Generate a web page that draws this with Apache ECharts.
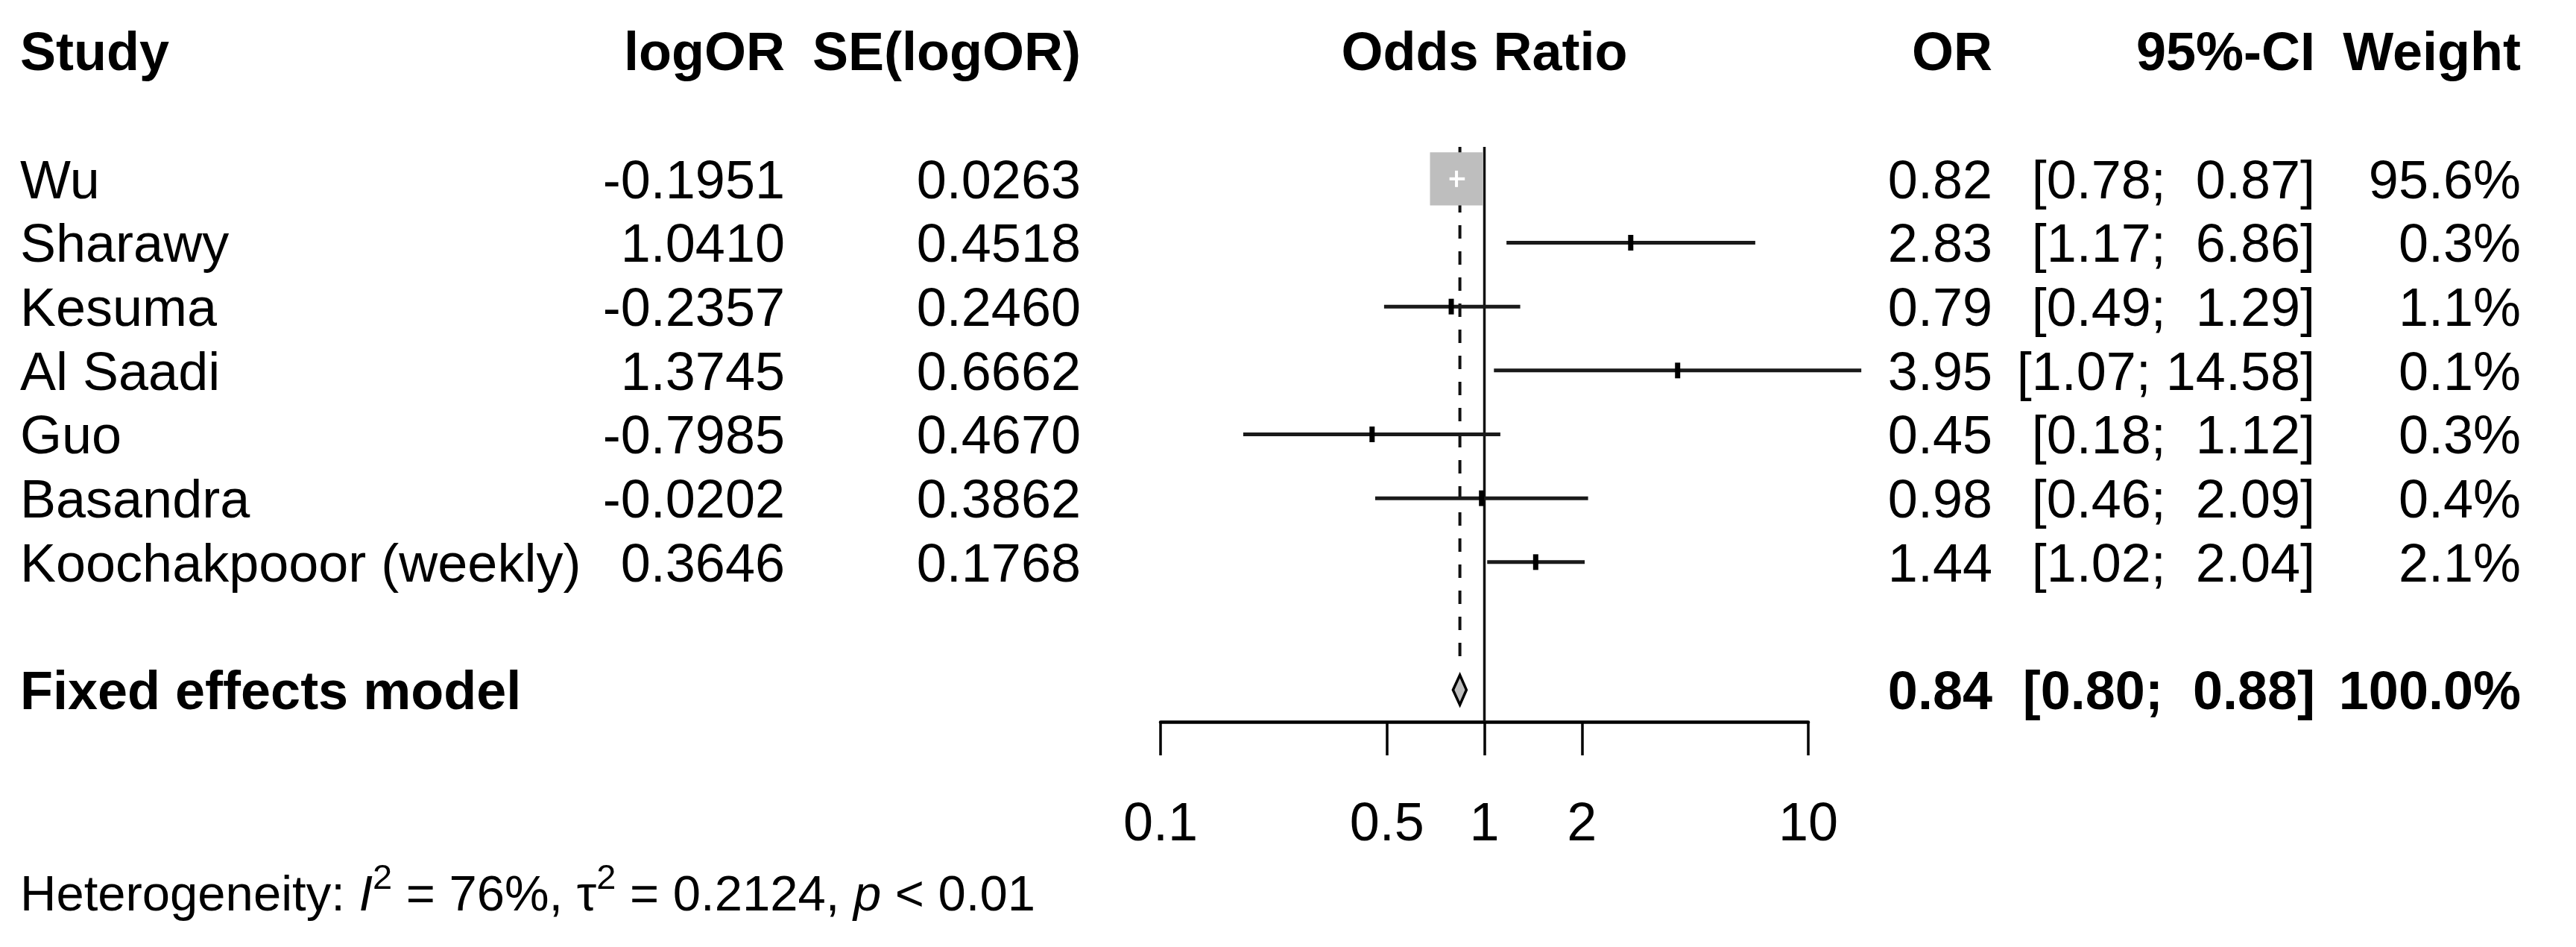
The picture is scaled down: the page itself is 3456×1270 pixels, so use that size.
<!DOCTYPE html>
<html><head><meta charset="utf-8">
<script src="https://cdn.jsdelivr.net/npm/echarts@6/dist/echarts.min.js"></script>
<style>html,body{margin:0;padding:0;background:#fff}#chart{width:3456px;height:1270px}</style>
</head><body><div id="chart"></div>
<script>
// ---------------- data ----------------
const studies = ['Wu', 'Sharawy', 'Kesuma', 'Al Saadi', 'Guo', 'Basandra', 'Koochakpooor (weekly)'];
const logOR = [-0.1951, 1.0410, -0.2357, 1.3745, -0.7985, -0.0202, 0.3646];
const seLogOR = [0.0263, 0.4518, 0.2460, 0.6662, 0.4670, 0.3862, 0.1768];
const oddsRatio = [0.82, 2.83, 0.79, 3.95, 0.45, 0.98, 1.44];
const ciLower = [0.78, 1.17, 0.49, 1.07, 0.18, 0.46, 1.02];
const ciUpper = [0.87, 6.86, 1.29, 14.58, 1.12, 2.09, 2.04];
const weightPct = [95.6, 0.3, 1.1, 0.1, 0.3, 0.4, 2.1];
const fixedLabel = 'Fixed effects model';
const fixedOR = [0.84];
const fixedLower = [0.80];
const fixedUpper = [0.88];
const fixedWeight = [100.0];
const tickValues = [0.1, 0.5, 1, 2, 10];
const headers = ['Study', 'logOR', 'SE(logOR)', 'Odds Ratio', 'OR', '95%-CI', 'Weight'];
const hetI2 = '76%';
const hetTau2 = '0.2124';
const hetP = '< 0.01';

// ---------------- layout ----------------
const FONT = '"Liberation Sans", Arial, Helvetica, sans-serif';
const FS = 72;
const FS_HET = 67;
const TEXT_DY = 6;
const COL = { study: 27, logOR: 1053, se: 1450, or: 2673, ci: 3106, w: 3382 };
const HEADER_ROW = -2;
const FIXED_ROW = studies.length + 1;
const BOX_SCALE = 0.83;

const L = Math.log10;
const tickLogs = tickValues.map(L);
const wMax = Math.max(...weightPct);

function fmtCI(lo, up) {
  const all = ciUpper.concat(fixedUpper).map(v => v.toFixed(2));
  const wid = Math.max(...all.map(s => s.length));
  let u = up.toFixed(2);
  while (u.length < wid) u = ' ' + u;
  return '[' + lo.toFixed(2) + '; ' + u + ']';
}

// table rows (text)
const tableRows = [];
tableRows.push({ row: HEADER_ROW, bold: true, cells: headers });
studies.forEach((s, i) => {
  tableRows.push({ row: i, bold: false, cells: [
    s, logOR[i].toFixed(4), seLogOR[i].toFixed(4), '',
    oddsRatio[i].toFixed(2), fmtCI(ciLower[i], ciUpper[i]), weightPct[i].toFixed(1) + '%'
  ]});
});
tableRows.push({ row: FIXED_ROW, bold: true, cells: [
  fixedLabel, '', '', '', fixedOR[0].toFixed(2), fmtCI(fixedLower[0], fixedUpper[0]),
  fixedWeight[0].toFixed(1) + '%'
]});

const forestData = studies.map((s, i) => [L(oddsRatio[i]), i, L(ciLower[i]), L(ciUpper[i]), weightPct[i]]);
const diamondData = [[L(fixedOR[0]), FIXED_ROW, L(fixedLower[0]), L(fixedUpper[0])]];
const refData = [[0, 0, 0], [L(fixedOR[0]), 0, 1]];

function txt(text, x, y, align, bold) {
  return { type: 'text', style: { text: text, x: x, y: y + TEXT_DY, align: align, verticalAlign: 'middle',
    fontFamily: FONT, fontSize: FS, fontWeight: bold ? 'bold' : 'normal', fill: '#000' } };
}

const chart = echarts.init(document.getElementById('chart'), null, { renderer: 'canvas' });
chart.setOption({
  animation: false,
  backgroundColor: '#fff',
  grid: { left: 1557, right: 1030, top: 197, bottom: 302, containLabel: false },
  xAxis: {
    type: 'value', min: -1, max: 1,
    axisLine: { show: true, onZero: false, lineStyle: { color: '#000', width: 4.5 } },
    axisTick: { show: true, customValues: tickLogs, length: 45, lineStyle: { color: '#000', width: 3.5 } },
    axisLabel: { show: true, customValues: tickLogs, margin: 103, fontSize: FS, fontFamily: FONT, color: '#000',
      formatter: v => { const t = tickValues.find(t => Math.abs(L(t) - v) < 1e-6); return t === undefined ? '' : String(t); } },
    splitLine: { show: false }
  },
  yAxis: { type: 'value', inverse: true, min: -0.5, max: FIXED_ROW + 0.5, show: false,
    axisLine: { onZero: false }, splitLine: { show: false } },
  series: [
    { // reference lines
      type: 'custom', data: refData, clip: false, z: 2,
      renderItem: (params, api) => {
        const cs = params.coordSys;
        const x = api.coord([api.value(0), 0])[0];
        const dashed = api.value(2) === 1;
        const y2 = dashed ? api.coord([0, FIXED_ROW - 0.35])[1] : cs.y + cs.height;
        return { type: 'line', shape: { x1: x, y1: cs.y, x2: x, y2: y2 },
          style: { stroke: '#111', lineWidth: dashed ? 4 : 3.5, lineDash: dashed ? [18, 17] : null } };
      }
    },
    { // studies
      type: 'custom', data: forestData, clip: false, z: 3,
      renderItem: (params, api) => {
        const est = api.value(0), row = api.value(1), lo = api.value(2), up = api.value(3), w = api.value(4);
        const pc = api.coord([est, row]), pl = api.coord([lo, row]), pu = api.coord([up, row]);
        const rowH = api.size([0, 1])[1];
        const side = BOX_SCALE * rowH * Math.sqrt(w / wMax);
        const y = pc[1];
        const ch = [];
        if (side >= 30) {
          const bl = pc[0] - side / 2, br = pc[0] + side / 2;
          ch.push({ type: 'rect', shape: { x: bl, y: y - side / 2, width: side, height: side }, style: { fill: '#bebebe' } });
          if (pl[0] < bl) ch.push({ type: 'line', shape: { x1: pl[0], y1: y, x2: bl, y2: y }, style: { stroke: '#1a1a1a', lineWidth: 5 } });
          if (pu[0] > br) ch.push({ type: 'line', shape: { x1: br, y1: y, x2: pu[0], y2: y }, style: { stroke: '#1a1a1a', lineWidth: 5 } });
          ch.push({ type: 'line', shape: { x1: Math.max(pl[0], bl), y1: y, x2: Math.min(pu[0], br), y2: y }, style: { stroke: '#fff', lineWidth: 4 } });
          ch.push({ type: 'line', shape: { x1: pc[0], y1: y - 11, x2: pc[0], y2: y + 11 }, style: { stroke: '#fff', lineWidth: 4 } });
        } else {
          ch.push({ type: 'line', shape: { x1: pl[0], y1: y, x2: pu[0], y2: y }, style: { stroke: '#1a1a1a', lineWidth: 5 } });
          ch.push({ type: 'rect', shape: { x: pc[0] - 3.5, y: y - 10.5, width: 7, height: 21 }, style: { fill: '#000' } });
        }
        return { type: 'group', children: ch };
      }
    },
    { // pooled diamond
      type: 'custom', data: diamondData, clip: false, z: 4,
      renderItem: (params, api) => {
        const pc = api.coord([api.value(0), api.value(1)]);
        const pl = api.coord([api.value(2), api.value(1)]);
        const pu = api.coord([api.value(3), api.value(1)]);
        const h = 0.233 * api.size([0, 1])[1];
        return { type: 'polygon', shape: { points: [[pl[0], pc[1]], [pc[0], pc[1] - h], [pu[0], pc[1]], [pc[0], pc[1] + h]] },
          style: { fill: '#bebebe', stroke: '#000', lineWidth: 3.5 } };
      }
    },
    { // table text
      type: 'custom', data: tableRows.map((r, i) => [0, r.row, i]), clip: false, z: 5,
      renderItem: (params, api) => {
        const r = tableRows[api.value(2)];
        const p = api.coord([0, r.row]);
        const y = p[1], b = r.bold, c = r.cells;
        const ch = [
          txt(c[0], COL.study, y, 'left', b),
          txt(c[1], COL.logOR, y, 'right', b),
          txt(c[2], COL.se, y, 'right', b),
          txt(c[3], p[0], y, 'center', b),
          txt(c[4], COL.or, y, 'right', b),
          txt(c[5], COL.ci, y, 'right', b),
          txt(c[6], COL.w, y, 'right', b)
        ];
        return { type: 'group', children: ch };
      }
    }
  ],
  graphic: [{
    type: 'text', x: 27, y: 1196,
    style: {
      text: '{z|\u200b}{n|Heterogeneity: }{i|I}{s|2}{n| = ' + hetI2 + ', τ}{s|2}{n| = ' + hetTau2 + ', }{i|p}{n| ' + hetP + '}',
      verticalAlign: 'middle', fontFamily: FONT, fontSize: FS_HET, fill: '#000',
      rich: {
        z: { fontFamily: FONT, fontSize: 10, lineHeight: 80, verticalAlign: 'middle', color: '#000' },
        n: { fontFamily: FONT, fontSize: FS_HET, lineHeight: 67, verticalAlign: 'bottom', color: '#000' },
        i: { fontFamily: FONT, fontSize: FS_HET, fontStyle: 'italic', lineHeight: 67, verticalAlign: 'bottom', color: '#000' },
        s: { fontFamily: FONT, fontSize: 47, lineHeight: 47, verticalAlign: 'top', color: '#000' }
      }
    }
  }]
});
</script></body></html>
